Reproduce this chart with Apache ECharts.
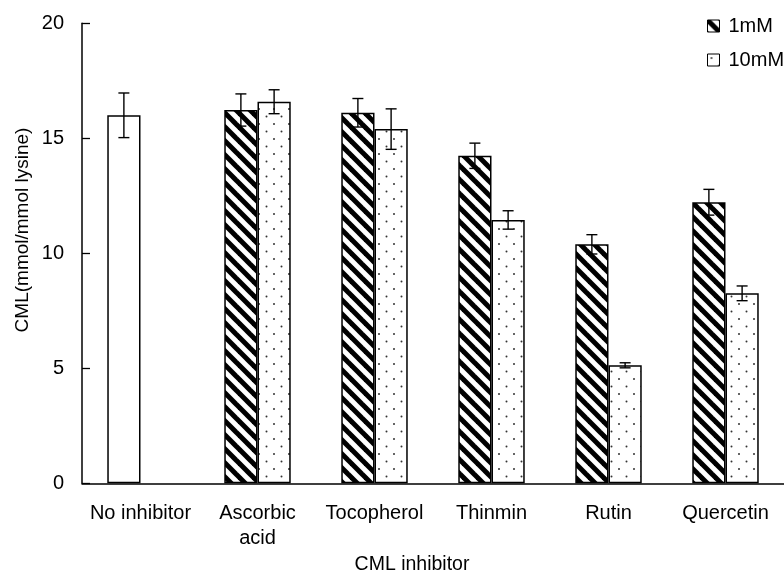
<!DOCTYPE html>
<html>
<head>
<meta charset="utf-8">
<script src="https://cdn.jsdelivr.net/npm/echarts@6/dist/echarts.min.js"></script>
<style>html,body{margin:0;padding:0;background:#fff}#c{width:784px;height:577px}</style>
</head>
<body>
<div id="c"></div>
<script>
const categories = ['No inhibitor', 'Ascorbic\nacid', 'Tocopherol', 'Thinmin', 'Rutin', 'Quercetin'];
const val1mM  = [16.00, 16.23, 16.11, 14.24, 10.39, 12.22];
const err1mM  = [0.97, 0.70, 0.62, 0.55, 0.42, 0.56];
const val10mM = [null, 16.59, 15.40, 11.45, 5.13, 8.26];
const err10mM = [null, 0.52, 0.88, 0.40, 0.11, 0.32];
const plainFillIndex = 0; // "No inhibitor" bar is drawn plain white
const yMin = 0, yMax = 20, yStep = 5;

function makeHatch() {
  const P = 14;
  const c = document.createElement('canvas');
  c.width = P; c.height = P;
  const g = c.getContext('2d');
  g.fillStyle = '#fff'; g.fillRect(0, 0, P, P);
  g.strokeStyle = '#000'; g.lineWidth = 5;
  [-P, 0, P].forEach(k => { g.beginPath(); g.moveTo(-3, k - 3); g.lineTo(P + 3, k + P + 3); g.stroke(); });
  return c;
}
function makeDots() {
  const c = document.createElement('canvas');
  c.width = 15; c.height = 15;
  const g = c.getContext('2d');
  g.fillStyle = '#fff'; g.fillRect(0, 0, 15, 15);
  g.fillStyle = '#333';
  [[4, 4], [11.5, 11.5]].forEach(p => { g.beginPath(); g.arc(p[0], p[1], 1.0, 0, Math.PI * 2); g.fill(); });
  return c;
}
const hatch = { image: makeHatch(), repeat: 'repeat' };
const dots = { image: makeDots(), repeat: 'repeat' };

const FONT = 'Liberation Sans';
const BAR_FRAC = 0.284;

function errSeries(values, errs, sign) {
  return {
    type: 'custom', z: 10, silent: true,
    encode: { x: 0, y: 1 },
    data: values.map((v, i) => v == null ? null : [i, v, errs[i]]).filter(d => d),
    renderItem(params, api) {
      const cat = api.value(0), v = api.value(1), e = api.value(2);
      const bw = api.size([1, 0])[0];
      const x = api.coord([cat, v])[0] + sign * bw * BAR_FRAC / 2;
      const yHi = api.coord([cat, v + e])[1];
      const yLo = api.coord([cat, v - e])[1];
      const st = { stroke: '#000', lineWidth: 1.4 };
      const cap = 5.5;
      return {
        type: 'group', children: [
          { type: 'line', shape: { x1: x, y1: yHi, x2: x, y2: yLo }, style: st },
          { type: 'line', shape: { x1: x - cap, y1: yHi, x2: x + cap, y2: yHi }, style: st },
          { type: 'line', shape: { x1: x - cap, y1: yLo, x2: x + cap, y2: yLo }, style: st }
        ]
      };
    }
  };
}

const chart = echarts.init(document.getElementById('c'), null, { renderer: 'canvas' });
chart.setOption({
  animation: false,
  backgroundColor: '#fff',
  textStyle: { fontFamily: FONT, color: '#000' },
  grid: { left: 82, top: 23.3, width: 708, bottom: 93.7, containLabel: false },
  legend: {
    orient: 'vertical', left: 707, top: 16, padding: 0,
    itemWidth: 12, itemHeight: 12, itemGap: 14, icon: 'rect',
    data: ['1mM', '10mM'],
    itemStyle: { borderColor: '#000', borderWidth: 1 },
    textStyle: { fontFamily: FONT, fontSize: 20, color: '#000', lineHeight: 20, padding: [0, 0, 0, 4] }
  },
  xAxis: {
    type: 'category', data: categories,
    axisLine: { lineStyle: { color: '#000', width: 1.5 } },
    axisTick: { inside: true, length: 6, lineStyle: { color: '#000', width: 1.3 } },
    axisLabel: { fontFamily: FONT, fontSize: 20, color: '#000', margin: 18, lineHeight: 25, interval: 0 },
    splitLine: { show: false }
  },
  yAxis: {
    type: 'value', min: yMin, max: yMax, interval: yStep,
    axisLine: { show: true, lineStyle: { color: '#000', width: 1.5 } },
    axisTick: { show: true, inside: true, length: 8, lineStyle: { color: '#000', width: 1.3 } },
    axisLabel: { fontFamily: FONT, fontSize: 20, color: '#000', margin: 18 },
    splitLine: { show: false }
  },
  graphic: [
    { type: 'text', x: 412, y: 565, style: { text: 'CML inhibitor', fontFamily: FONT, fontSize: 19.5, fill: '#000', align: 'center', verticalAlign: 'middle' } },
    { type: 'text', x: 23, y: 230, rotation: Math.PI / 2, style: { text: 'CML(mmol/mmol lysine)', fontFamily: FONT, fontSize: 19, fill: '#000', align: 'center', verticalAlign: 'middle' } }
  ],
  series: [
    {
      name: '1mM', type: 'bar', barWidth: (BAR_FRAC * 100) + '%', barGap: '0%',
      itemStyle: { color: hatch, borderColor: '#000', borderWidth: 1.5 },
      emphasis: { disabled: true },
      data: val1mM.map((v, i) => i === plainFillIndex ? { value: v, itemStyle: { color: '#fff' } } : v)
    },
    {
      name: '10mM', type: 'bar', barWidth: (BAR_FRAC * 100) + '%', barGap: '0%',
      itemStyle: { color: dots, borderColor: '#000', borderWidth: 1.5 },
      emphasis: { disabled: true },
      data: val10mM.map(v => v == null ? '-' : v)
    },
    errSeries(val1mM, err1mM, -1),
    errSeries(val10mM, err10mM, 1)
  ]
});
</script>
</body>
</html>
